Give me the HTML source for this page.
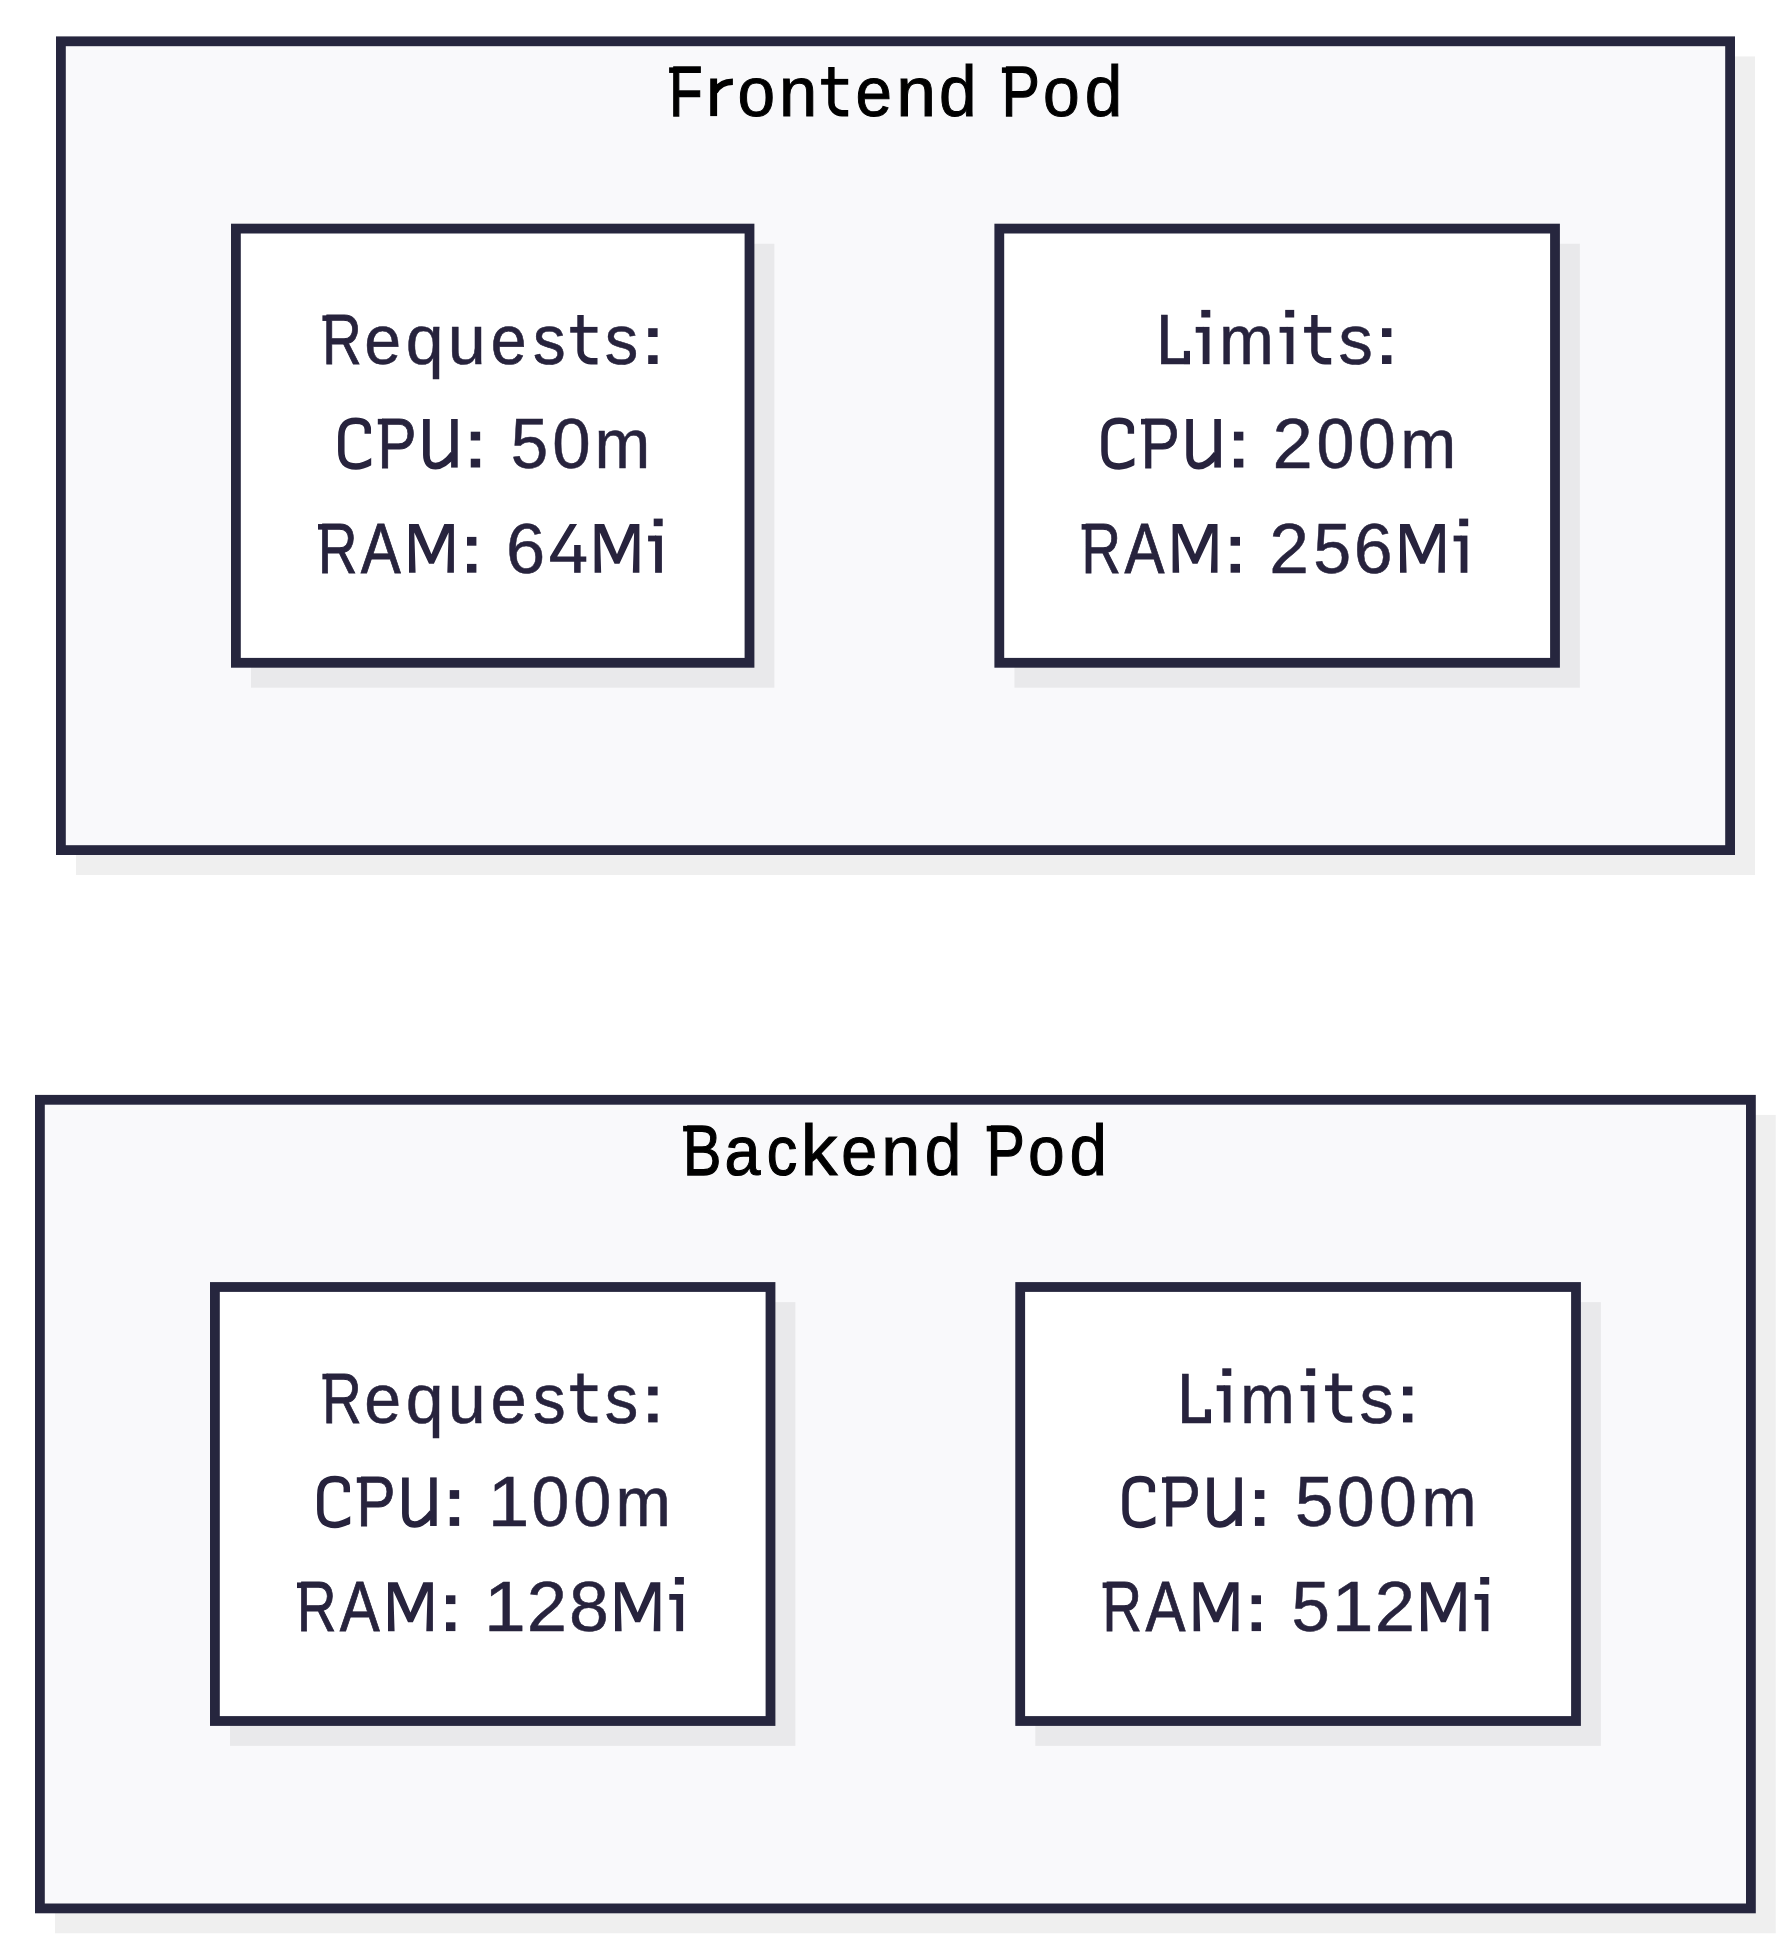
<!DOCTYPE html>
<html><head><meta charset="utf-8"><title>Pod resources</title>
<style>
html,body{margin:0;padding:0;background:#ffffff;}
body{width:1791px;height:1950px;overflow:hidden;}
svg{display:block;}
svg text{font-family:"Liberation Sans",sans-serif;font-size:70.8px;font-kerning:none;white-space:pre;}
</style></head><body>
<svg width="1791" height="1950" viewBox="0 0 1791 1950">
<defs><clipPath id="cc"><rect x="-2" y="-60" width="35.3" height="70"/></clipPath></defs>
<rect x="76.00" y="56.40" width="1679.00" height="818.60" fill="rgba(0,0,0,0.063)"/>
<rect x="60.90" y="41.30" width="1669.20" height="808.80" fill="#f9f9fb" stroke="#26263e" stroke-width="9.8"/>
<rect x="251.00" y="243.70" width="523.40" height="444.00" fill="rgba(0,0,0,0.063)"/>
<rect x="235.90" y="228.60" width="513.60" height="434.20" fill="#ffffff" stroke="#26263e" stroke-width="9.8"/>
<rect x="1014.40" y="243.70" width="565.50" height="444.00" fill="rgba(0,0,0,0.063)"/>
<rect x="999.30" y="228.60" width="555.70" height="434.20" fill="#ffffff" stroke="#26263e" stroke-width="9.8"/>
<rect x="55.00" y="1114.90" width="1720.80" height="818.40" fill="rgba(0,0,0,0.063)"/>
<rect x="39.90" y="1099.80" width="1711.00" height="808.60" fill="#f9f9fb" stroke="#26263e" stroke-width="9.8"/>
<rect x="230.00" y="1302.10" width="565.40" height="443.80" fill="rgba(0,0,0,0.063)"/>
<rect x="214.90" y="1287.00" width="555.60" height="434.00" fill="#ffffff" stroke="#26263e" stroke-width="9.8"/>
<rect x="1035.30" y="1302.10" width="565.60" height="443.80" fill="rgba(0,0,0,0.063)"/>
<rect x="1020.20" y="1287.00" width="555.80" height="434.00" fill="#ffffff" stroke="#26263e" stroke-width="9.8"/>
<g role="img" aria-label="Frontend Pod">
<rect x="669.10" y="67.35" width="5.5" height="5.6" fill="#000000"/>
<text transform="translate(669.27 116.10) scale(0.7694 1)" fill="#000000" stroke="#000000" stroke-width="1.40" stroke-linejoin="miter">F</text>
<rect x="710.20" y="78.50" width="6.9" height="37.6" fill="#000000"/>
<path transform="translate(710.20 116.10)" d="M4.5 -24.5 C8.5 -31 13.5 -34.3 22.70 -34.3" fill="none" stroke="#000000" stroke-width="6.5"/>
<text transform="translate(737.54 116.10) scale(0.9556 1)" fill="#000000" stroke="#000000" stroke-width="1.00" stroke-linejoin="miter">o</text>
<text transform="translate(779.12 116.10) scale(0.9718 1)" fill="#000000" stroke="#000000" stroke-width="1.00" stroke-linejoin="miter">n</text>
<rect x="821.10" y="78.90" width="27.10" height="5.8" fill="#000000"/>
<path d="M831.40 67.00 L831.40 102.70 A10.5 10.5 0 0 0 841.90 113.20 L848.20 113.20" fill="none" stroke="#000000" stroke-width="6.4"/>
<text transform="translate(855.58 116.10) scale(0.9263 1)" fill="#000000" stroke="#000000" stroke-width="1.00" stroke-linejoin="miter">e</text>
<text transform="translate(896.25 116.10) scale(1.0104 1)" fill="#000000" stroke="#000000" stroke-width="1.00" stroke-linejoin="miter">n</text>
<text transform="translate(938.94 116.10) scale(0.9531 1.028)" fill="#000000" stroke="#000000" stroke-width="1.00" stroke-linejoin="miter">d</text>
<rect x="1001.90" y="67.35" width="5.5" height="5.6" fill="#000000"/>
<text transform="translate(1001.86 116.10) scale(0.8048 1)" fill="#000000" stroke="#000000" stroke-width="1.33" stroke-linejoin="miter">P</text>
<text transform="translate(1043.09 116.10) scale(0.9323 1)" fill="#000000" stroke="#000000" stroke-width="1.00" stroke-linejoin="miter">o</text>
<text transform="translate(1084.74 116.10) scale(0.9531 1.028)" fill="#000000" stroke="#000000" stroke-width="1.00" stroke-linejoin="miter">d</text>
</g>
<g role="img" aria-label="Backend Pod">
<rect x="683.10" y="1125.85" width="5.5" height="5.6" fill="#000000"/>
<text transform="translate(683.01 1174.60) scale(0.8128 1)" fill="#000000" stroke="#000000" stroke-width="1.32" stroke-linejoin="miter">B</text>
<text transform="translate(724.57 1174.60) scale(0.9123 1)" fill="#000000" stroke="#000000" stroke-width="1.12" stroke-linejoin="miter">a</text>
<text transform="translate(766.63 1174.60) scale(0.8602 1)" fill="#000000" stroke="#000000" stroke-width="1.21" stroke-linejoin="miter">c</text>
<text transform="translate(800.69 1174.60) scale(1.0336 1.028)" fill="#000000" stroke="#000000" stroke-width="1.00" stroke-linejoin="miter">k</text>
<text transform="translate(841.37 1174.60) scale(0.9115 1)" fill="#000000" stroke="#000000" stroke-width="1.12" stroke-linejoin="miter">e</text>
<text transform="translate(881.24 1174.60) scale(0.9911 1)" fill="#000000" stroke="#000000" stroke-width="1.00" stroke-linejoin="miter">n</text>
<text transform="translate(924.70 1174.60) scale(0.9288 1.028)" fill="#000000" stroke="#000000" stroke-width="1.00" stroke-linejoin="miter">d</text>
<rect x="986.70" y="1125.85" width="5.5" height="5.6" fill="#000000"/>
<text transform="translate(986.66 1174.60) scale(0.8048 1)" fill="#000000" stroke="#000000" stroke-width="1.33" stroke-linejoin="miter">P</text>
<text transform="translate(1027.89 1174.60) scale(0.9323 1)" fill="#000000" stroke="#000000" stroke-width="1.00" stroke-linejoin="miter">o</text>
<text transform="translate(1069.54 1174.60) scale(0.9531 1.028)" fill="#000000" stroke="#000000" stroke-width="1.00" stroke-linejoin="miter">d</text>
</g>
<g role="img" aria-label="Requests:">
<rect x="322.40" y="315.35" width="5.5" height="5.6" fill="#27233d"/>
<text transform="translate(322.37 364.10) scale(0.7709 1)" fill="#27233d" stroke="#27233d" stroke-width="0.90" stroke-linejoin="miter">R</text>
<text transform="translate(364.22 364.10) scale(0.9371 1)" fill="#27233d" stroke="#27233d" stroke-width="0.50" stroke-linejoin="miter">e</text>
<text transform="translate(405.78 364.10) scale(0.9607 1)" fill="#27233d" stroke="#27233d" stroke-width="0.50" stroke-linejoin="miter">q</text>
<text transform="translate(447.71 364.10) scale(0.9648 1)" fill="#27233d" stroke="#27233d" stroke-width="0.50" stroke-linejoin="miter">u</text>
<text transform="translate(490.76 364.10) scale(0.9094 1)" fill="#27233d" stroke="#27233d" stroke-width="0.65" stroke-linejoin="miter">e</text>
<text transform="translate(532.97 364.10) scale(0.9209 1)" fill="#27233d" stroke="#27233d" stroke-width="0.62" stroke-linejoin="miter">s</text>
<rect x="570.20" y="326.90" width="27.30" height="5.8" fill="#27233d"/>
<path d="M580.50 315.00 L580.50 350.70 A10.5 10.5 0 0 0 591.00 361.20 L597.50 361.20" fill="none" stroke="#27233d" stroke-width="6.4"/>
<text transform="translate(604.77 364.10) scale(0.9467 1)" fill="#27233d" stroke="#27233d" stroke-width="0.50" stroke-linejoin="miter">s</text>
<rect x="648.20" y="328.20" width="9.4" height="8.8" fill="#27233d"/>
<rect x="648.20" y="355.20" width="9.4" height="8.8" fill="#27233d"/>
</g>
<g role="img" aria-label="CPU: 50m">
<path transform="translate(337.90 467.60)" clip-path="url(#cc)" d="M29.89 -33.8 V-38.2 C29.89 -44 25.58 -46.9 18.05 -46.9 C8.02 -46.9 3.4 -42 3.4 -31 V-16.5 C3.4 -6 8.02 -1.1 18.05 -1.1 C24.07 -1.1 30.09 -3.6 37.11 -8.2" fill="none" stroke="#27233d" stroke-width="6.5"/>
<rect x="377.80" y="418.85" width="5.5" height="5.6" fill="#27233d"/>
<text transform="translate(377.44 467.60) scale(0.8261 1)" fill="#27233d" stroke="#27233d" stroke-width="0.81" stroke-linejoin="miter">P</text>
<path transform="translate(423.00 467.60)" d="M3.4 -48.6 V-12.5 C3.4 -4.5 7.5 -1.5 12.6 -1.5 C19 -1.5 24 -5.5 30.30 -13.5" fill="none" stroke="#27233d" stroke-width="6.7"/>
<rect x="451.10" y="419.00" width="6.6" height="48.6" fill="#27233d"/>
<rect x="470.75" y="431.70" width="9.4" height="8.8" fill="#27233d"/>
<rect x="470.75" y="458.70" width="9.4" height="8.8" fill="#27233d"/>
<text transform="translate(510.84 467.60) scale(0.9510 1)" fill="#27233d" stroke="#27233d" stroke-width="0.50" stroke-linejoin="miter">5</text>
<text transform="translate(552.15 467.60) scale(0.9754 1)" fill="#27233d" stroke="#27233d" stroke-width="0.50" stroke-linejoin="miter">0</text>
<text transform="translate(594.59 467.60) scale(0.9459 1)" fill="#27233d" stroke="#27233d" stroke-width="0.50" stroke-linejoin="miter">m</text>
</g>
<g role="img" aria-label="RAM: 64Mi">
<rect x="318.00" y="524.05" width="5.5" height="5.6" fill="#27233d"/>
<text transform="translate(317.97 572.80) scale(0.7709 1)" fill="#27233d" stroke="#27233d" stroke-width="0.90" stroke-linejoin="miter">R</text>
<text transform="translate(360.81 572.80) scale(0.8465 1)" fill="#27233d" stroke="#27233d" stroke-width="0.78" stroke-linejoin="miter">A</text>
<polygon points="409.00,572.80 409.00,523.90 418.58,523.90 431.45,554.20 444.32,523.90 453.90,523.90 453.90,572.80 447.31,572.80 448.61,532.50 433.89,563.80 429.01,563.80 414.29,532.50 415.59,572.80" fill="#27233d"/>
<rect x="467.00" y="536.90" width="9.4" height="8.8" fill="#27233d"/>
<rect x="467.00" y="563.90" width="9.4" height="8.8" fill="#27233d"/>
<text transform="translate(505.97 572.80) scale(0.9949 1)" fill="#27233d" stroke="#27233d" stroke-width="0.50" stroke-linejoin="miter">6</text>
<polygon points="569.81,524.10 577.05,524.10 557.14,556.50 586.30,556.50 586.30,561.80 550.10,561.80 550.10,556.80" fill="#27233d"/>
<rect x="574.13" y="545.00" width="6.5" height="27.8" fill="#27233d"/>
<polygon points="594.60,572.80 594.60,523.90 604.16,523.90 617.00,554.20 629.84,523.90 639.40,523.90 639.40,572.80 632.83,572.80 634.12,532.50 619.44,563.80 614.56,563.80 599.88,532.50 601.17,572.80" fill="#27233d"/>
<rect x="653.70" y="518.60" width="9.0" height="7.6" fill="#27233d"/>
<rect x="655.10" y="535.60" width="6.8" height="37.2" fill="#27233d"/>
<rect x="648.10" y="535.60" width="8" height="5.8" fill="#27233d"/>
</g>
<g role="img" aria-label="Limits:">
<rect x="1183.90" y="350.90" width="6.1" height="13.2" fill="#27233d"/>
<text transform="translate(1156.01 364.10) scale(0.9103 1)" fill="#27233d" stroke="#27233d" stroke-width="0.64" stroke-linejoin="miter">L</text>
<rect x="1201.30" y="309.90" width="9.0" height="7.6" fill="#27233d"/>
<rect x="1202.70" y="326.90" width="6.8" height="37.2" fill="#27233d"/>
<rect x="1195.70" y="326.90" width="8" height="5.8" fill="#27233d"/>
<text transform="translate(1219.35 364.10) scale(0.9236 1)" fill="#27233d" stroke="#27233d" stroke-width="0.63" stroke-linejoin="miter">m</text>
<rect x="1285.20" y="309.90" width="9.0" height="7.6" fill="#27233d"/>
<rect x="1286.60" y="326.90" width="6.8" height="37.2" fill="#27233d"/>
<rect x="1279.60" y="326.90" width="8" height="5.8" fill="#27233d"/>
<rect x="1304.10" y="326.90" width="27.10" height="5.8" fill="#27233d"/>
<path d="M1314.40 315.00 L1314.40 350.70 A10.5 10.5 0 0 0 1324.90 361.20 L1331.20 361.20" fill="none" stroke="#27233d" stroke-width="6.4"/>
<text transform="translate(1338.53 364.10) scale(0.9690 1)" fill="#27233d" stroke="#27233d" stroke-width="0.50" stroke-linejoin="miter">s</text>
<rect x="1382.00" y="328.20" width="9.4" height="8.8" fill="#27233d"/>
<rect x="1382.00" y="355.20" width="9.4" height="8.8" fill="#27233d"/>
</g>
<g role="img" aria-label="CPU: 200m">
<path transform="translate(1101.10 467.60)" clip-path="url(#cc)" d="M29.89 -33.8 V-38.2 C29.89 -44 25.58 -46.9 18.05 -46.9 C8.02 -46.9 3.4 -42 3.4 -31 V-16.5 C3.4 -6 8.02 -1.1 18.05 -1.1 C24.07 -1.1 30.09 -3.6 37.11 -8.2" fill="none" stroke="#27233d" stroke-width="6.5"/>
<rect x="1141.00" y="418.85" width="5.5" height="5.6" fill="#27233d"/>
<text transform="translate(1140.64 467.60) scale(0.8261 1)" fill="#27233d" stroke="#27233d" stroke-width="0.81" stroke-linejoin="miter">P</text>
<path transform="translate(1186.20 467.60)" d="M3.4 -48.6 V-12.5 C3.4 -4.5 7.5 -1.5 12.6 -1.5 C19 -1.5 24 -5.5 30.30 -13.5" fill="none" stroke="#27233d" stroke-width="6.7"/>
<rect x="1214.30" y="419.00" width="6.6" height="48.6" fill="#27233d"/>
<rect x="1233.95" y="431.70" width="9.4" height="8.8" fill="#27233d"/>
<rect x="1233.95" y="458.70" width="9.4" height="8.8" fill="#27233d"/>
<text transform="translate(1272.61 467.60) scale(1.0228 1)" fill="#27233d" stroke="#27233d" stroke-width="0.50" stroke-linejoin="miter">2</text>
<text transform="translate(1316.48 467.60) scale(0.9638 1)" fill="#27233d" stroke="#27233d" stroke-width="0.50" stroke-linejoin="miter">0</text>
<text transform="translate(1358.09 467.60) scale(0.9579 1)" fill="#27233d" stroke="#27233d" stroke-width="0.50" stroke-linejoin="miter">0</text>
<text transform="translate(1400.17 467.60) scale(0.9499 1)" fill="#27233d" stroke="#27233d" stroke-width="0.50" stroke-linejoin="miter">m</text>
</g>
<g role="img" aria-label="RAM: 256Mi">
<rect x="1081.60" y="524.05" width="5.5" height="5.6" fill="#27233d"/>
<text transform="translate(1081.57 572.80) scale(0.7709 1)" fill="#27233d" stroke="#27233d" stroke-width="0.90" stroke-linejoin="miter">R</text>
<text transform="translate(1124.41 572.80) scale(0.8465 1)" fill="#27233d" stroke="#27233d" stroke-width="0.78" stroke-linejoin="miter">A</text>
<polygon points="1172.60,572.80 1172.60,523.90 1182.18,523.90 1195.05,554.20 1207.92,523.90 1217.50,523.90 1217.50,572.80 1210.91,572.80 1212.21,532.50 1197.49,563.80 1192.61,563.80 1177.89,532.50 1179.19,572.80" fill="#27233d"/>
<rect x="1230.60" y="536.90" width="9.4" height="8.8" fill="#27233d"/>
<rect x="1230.60" y="563.90" width="9.4" height="8.8" fill="#27233d"/>
<text transform="translate(1269.36 572.80) scale(1.0075 1)" fill="#27233d" stroke="#27233d" stroke-width="0.50" stroke-linejoin="miter">2</text>
<text transform="translate(1313.31 572.80) scale(0.9628 1)" fill="#27233d" stroke="#27233d" stroke-width="0.50" stroke-linejoin="miter">5</text>
<text transform="translate(1353.80 572.80) scale(0.9859 1)" fill="#27233d" stroke="#27233d" stroke-width="0.50" stroke-linejoin="miter">6</text>
<polygon points="1400.00,572.80 1400.00,523.90 1409.58,523.90 1422.45,554.20 1435.32,523.90 1444.90,523.90 1444.90,572.80 1438.31,572.80 1439.61,532.50 1424.89,563.80 1420.01,563.80 1405.29,532.50 1406.59,572.80" fill="#27233d"/>
<rect x="1459.20" y="518.60" width="9.0" height="7.6" fill="#27233d"/>
<rect x="1460.60" y="535.60" width="6.8" height="37.2" fill="#27233d"/>
<rect x="1453.60" y="535.60" width="8" height="5.8" fill="#27233d"/>
</g>
<g role="img" aria-label="Requests:">
<rect x="322.40" y="1373.75" width="5.5" height="5.6" fill="#27233d"/>
<text transform="translate(322.37 1422.50) scale(0.7709 1)" fill="#27233d" stroke="#27233d" stroke-width="0.90" stroke-linejoin="miter">R</text>
<text transform="translate(364.22 1422.50) scale(0.9371 1)" fill="#27233d" stroke="#27233d" stroke-width="0.50" stroke-linejoin="miter">e</text>
<text transform="translate(405.78 1422.50) scale(0.9607 1)" fill="#27233d" stroke="#27233d" stroke-width="0.50" stroke-linejoin="miter">q</text>
<text transform="translate(447.71 1422.50) scale(0.9648 1)" fill="#27233d" stroke="#27233d" stroke-width="0.50" stroke-linejoin="miter">u</text>
<text transform="translate(490.76 1422.50) scale(0.9094 1)" fill="#27233d" stroke="#27233d" stroke-width="0.65" stroke-linejoin="miter">e</text>
<text transform="translate(532.97 1422.50) scale(0.9209 1)" fill="#27233d" stroke="#27233d" stroke-width="0.62" stroke-linejoin="miter">s</text>
<rect x="570.20" y="1385.30" width="27.30" height="5.8" fill="#27233d"/>
<path d="M580.50 1373.40 L580.50 1409.10 A10.5 10.5 0 0 0 591.00 1419.60 L597.50 1419.60" fill="none" stroke="#27233d" stroke-width="6.4"/>
<text transform="translate(604.77 1422.50) scale(0.9467 1)" fill="#27233d" stroke="#27233d" stroke-width="0.50" stroke-linejoin="miter">s</text>
<rect x="648.20" y="1386.60" width="9.4" height="8.8" fill="#27233d"/>
<rect x="648.20" y="1413.60" width="9.4" height="8.8" fill="#27233d"/>
</g>
<g role="img" aria-label="CPU: 100m">
<path transform="translate(316.90 1526.00)" clip-path="url(#cc)" d="M29.89 -33.8 V-38.2 C29.89 -44 25.58 -46.9 18.05 -46.9 C8.02 -46.9 3.4 -42 3.4 -31 V-16.5 C3.4 -6 8.02 -1.1 18.05 -1.1 C24.07 -1.1 30.09 -3.6 37.11 -8.2" fill="none" stroke="#27233d" stroke-width="6.5"/>
<rect x="356.80" y="1477.25" width="5.5" height="5.6" fill="#27233d"/>
<text transform="translate(356.44 1526.00) scale(0.8261 1)" fill="#27233d" stroke="#27233d" stroke-width="0.81" stroke-linejoin="miter">P</text>
<path transform="translate(402.00 1526.00)" d="M3.4 -48.6 V-12.5 C3.4 -4.5 7.5 -1.5 12.6 -1.5 C19 -1.5 24 -5.5 30.30 -13.5" fill="none" stroke="#27233d" stroke-width="6.7"/>
<rect x="430.10" y="1477.40" width="6.6" height="48.6" fill="#27233d"/>
<rect x="449.75" y="1490.10" width="9.4" height="8.8" fill="#27233d"/>
<rect x="449.75" y="1517.10" width="9.4" height="8.8" fill="#27233d"/>
<text transform="translate(487.76 1526.00) scale(1.0572 1)" fill="#27233d" stroke="#27233d" stroke-width="0.50" stroke-linejoin="miter">1</text>
<text transform="translate(531.48 1526.00) scale(0.9609 1)" fill="#27233d" stroke="#27233d" stroke-width="0.50" stroke-linejoin="miter">0</text>
<text transform="translate(573.37 1526.00) scale(0.9667 1)" fill="#27233d" stroke="#27233d" stroke-width="0.50" stroke-linejoin="miter">0</text>
<text transform="translate(615.47 1526.00) scale(0.9381 1)" fill="#27233d" stroke="#27233d" stroke-width="0.60" stroke-linejoin="miter">m</text>
</g>
<g role="img" aria-label="RAM: 128Mi">
<rect x="297.00" y="1582.45" width="5.5" height="5.6" fill="#27233d"/>
<text transform="translate(296.97 1631.20) scale(0.7709 1)" fill="#27233d" stroke="#27233d" stroke-width="0.90" stroke-linejoin="miter">R</text>
<text transform="translate(339.81 1631.20) scale(0.8465 1)" fill="#27233d" stroke="#27233d" stroke-width="0.78" stroke-linejoin="miter">A</text>
<polygon points="388.00,1631.20 388.00,1582.30 397.58,1582.30 410.45,1612.60 423.32,1582.30 432.90,1582.30 432.90,1631.20 426.31,1631.20 427.61,1590.90 412.89,1622.20 408.01,1622.20 393.29,1590.90 394.59,1631.20" fill="#27233d"/>
<rect x="446.00" y="1595.30" width="9.4" height="8.8" fill="#27233d"/>
<rect x="446.00" y="1622.30" width="9.4" height="8.8" fill="#27233d"/>
<text transform="translate(483.95 1631.20) scale(1.0604 1)" fill="#27233d" stroke="#27233d" stroke-width="0.50" stroke-linejoin="miter">1</text>
<text transform="translate(526.71 1631.20) scale(1.0228 1)" fill="#27233d" stroke="#27233d" stroke-width="0.50" stroke-linejoin="miter">2</text>
<text transform="translate(569.04 1631.20) scale(1.0112 1)" fill="#27233d" stroke="#27233d" stroke-width="0.50" stroke-linejoin="miter">8</text>
<polygon points="615.00,1631.20 615.00,1582.30 624.66,1582.30 637.65,1612.60 650.64,1582.30 660.30,1582.30 660.30,1631.20 653.66,1631.20 654.96,1590.90 640.12,1622.20 635.18,1622.20 620.34,1590.90 621.64,1631.20" fill="#27233d"/>
<rect x="674.90" y="1577.00" width="9.0" height="7.6" fill="#27233d"/>
<rect x="676.30" y="1594.00" width="6.8" height="37.2" fill="#27233d"/>
<rect x="669.30" y="1594.00" width="8" height="5.8" fill="#27233d"/>
</g>
<g role="img" aria-label="Limits:">
<rect x="1204.90" y="1409.30" width="6.1" height="13.2" fill="#27233d"/>
<text transform="translate(1177.01 1422.50) scale(0.9103 1)" fill="#27233d" stroke="#27233d" stroke-width="0.64" stroke-linejoin="miter">L</text>
<rect x="1222.30" y="1368.30" width="9.0" height="7.6" fill="#27233d"/>
<rect x="1223.70" y="1385.30" width="6.8" height="37.2" fill="#27233d"/>
<rect x="1216.70" y="1385.30" width="8" height="5.8" fill="#27233d"/>
<text transform="translate(1240.35 1422.50) scale(0.9236 1)" fill="#27233d" stroke="#27233d" stroke-width="0.63" stroke-linejoin="miter">m</text>
<rect x="1306.20" y="1368.30" width="9.0" height="7.6" fill="#27233d"/>
<rect x="1307.60" y="1385.30" width="6.8" height="37.2" fill="#27233d"/>
<rect x="1300.60" y="1385.30" width="8" height="5.8" fill="#27233d"/>
<rect x="1325.10" y="1385.30" width="27.10" height="5.8" fill="#27233d"/>
<path d="M1335.40 1373.40 L1335.40 1409.10 A10.5 10.5 0 0 0 1345.90 1419.60 L1352.20 1419.60" fill="none" stroke="#27233d" stroke-width="6.4"/>
<text transform="translate(1359.53 1422.50) scale(0.9690 1)" fill="#27233d" stroke="#27233d" stroke-width="0.50" stroke-linejoin="miter">s</text>
<rect x="1403.00" y="1386.60" width="9.4" height="8.8" fill="#27233d"/>
<rect x="1403.00" y="1413.60" width="9.4" height="8.8" fill="#27233d"/>
</g>
<g role="img" aria-label="CPU: 500m">
<path transform="translate(1122.10 1526.00)" clip-path="url(#cc)" d="M29.89 -33.8 V-38.2 C29.89 -44 25.58 -46.9 18.05 -46.9 C8.02 -46.9 3.4 -42 3.4 -31 V-16.5 C3.4 -6 8.02 -1.1 18.05 -1.1 C24.07 -1.1 30.09 -3.6 37.11 -8.2" fill="none" stroke="#27233d" stroke-width="6.5"/>
<rect x="1162.00" y="1477.25" width="5.5" height="5.6" fill="#27233d"/>
<text transform="translate(1161.64 1526.00) scale(0.8261 1)" fill="#27233d" stroke="#27233d" stroke-width="0.81" stroke-linejoin="miter">P</text>
<path transform="translate(1207.20 1526.00)" d="M3.4 -48.6 V-12.5 C3.4 -4.5 7.5 -1.5 12.6 -1.5 C19 -1.5 24 -5.5 30.30 -13.5" fill="none" stroke="#27233d" stroke-width="6.7"/>
<rect x="1235.30" y="1477.40" width="6.6" height="48.6" fill="#27233d"/>
<rect x="1254.95" y="1490.10" width="9.4" height="8.8" fill="#27233d"/>
<rect x="1254.95" y="1517.10" width="9.4" height="8.8" fill="#27233d"/>
<text transform="translate(1294.97 1526.00) scale(0.9775 1)" fill="#27233d" stroke="#27233d" stroke-width="0.50" stroke-linejoin="miter">5</text>
<text transform="translate(1337.10 1526.00) scale(0.9550 1)" fill="#27233d" stroke="#27233d" stroke-width="0.50" stroke-linejoin="miter">0</text>
<text transform="translate(1378.88 1526.00) scale(0.9609 1)" fill="#27233d" stroke="#27233d" stroke-width="0.50" stroke-linejoin="miter">0</text>
<text transform="translate(1421.39 1526.00) scale(0.9339 1)" fill="#27233d" stroke="#27233d" stroke-width="0.61" stroke-linejoin="miter">m</text>
</g>
<g role="img" aria-label="RAM: 512Mi">
<rect x="1102.60" y="1582.45" width="5.5" height="5.6" fill="#27233d"/>
<text transform="translate(1102.57 1631.20) scale(0.7709 1)" fill="#27233d" stroke="#27233d" stroke-width="0.90" stroke-linejoin="miter">R</text>
<text transform="translate(1145.41 1631.20) scale(0.8465 1)" fill="#27233d" stroke="#27233d" stroke-width="0.78" stroke-linejoin="miter">A</text>
<polygon points="1193.60,1631.20 1193.60,1582.30 1203.18,1582.30 1216.05,1612.60 1228.92,1582.30 1238.50,1582.30 1238.50,1631.20 1231.91,1631.20 1233.21,1590.90 1218.49,1622.20 1213.61,1622.20 1198.89,1590.90 1200.19,1631.20" fill="#27233d"/>
<rect x="1251.60" y="1595.30" width="9.4" height="8.8" fill="#27233d"/>
<rect x="1251.60" y="1622.30" width="9.4" height="8.8" fill="#27233d"/>
<text transform="translate(1291.58 1631.20) scale(0.9745 1)" fill="#27233d" stroke="#27233d" stroke-width="0.50" stroke-linejoin="miter">5</text>
<text transform="translate(1331.85 1631.20) scale(1.0604 1)" fill="#27233d" stroke="#27233d" stroke-width="0.50" stroke-linejoin="miter">1</text>
<text transform="translate(1374.81 1631.20) scale(1.0228 1)" fill="#27233d" stroke="#27233d" stroke-width="0.50" stroke-linejoin="miter">2</text>
<polygon points="1421.00,1631.20 1421.00,1582.30 1430.54,1582.30 1443.35,1612.60 1456.16,1582.30 1465.70,1582.30 1465.70,1631.20 1459.14,1631.20 1460.44,1590.90 1445.78,1622.20 1440.92,1622.20 1426.26,1590.90 1427.56,1631.20" fill="#27233d"/>
<rect x="1480.20" y="1577.00" width="9.0" height="7.6" fill="#27233d"/>
<rect x="1481.60" y="1594.00" width="6.8" height="37.2" fill="#27233d"/>
<rect x="1474.60" y="1594.00" width="8" height="5.8" fill="#27233d"/>
</g>
</svg>
</body></html>
